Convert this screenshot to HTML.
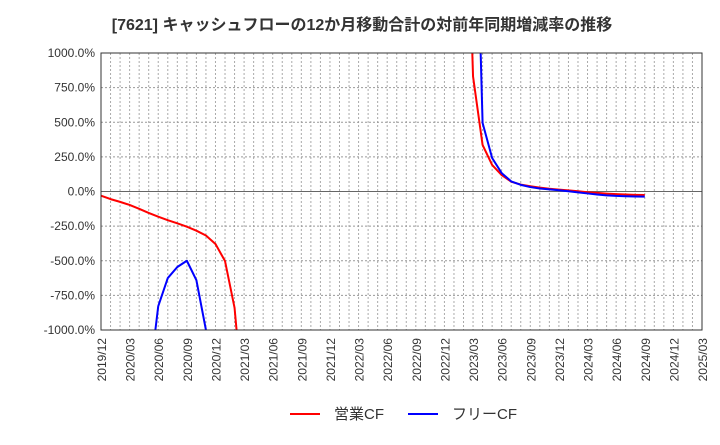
<!DOCTYPE html>
<html><head><meta charset="utf-8">
<style>
body{margin:0;background:#fff;font-family:"Liberation Sans","Noto Sans CJK JP",sans-serif;}
svg text{font-family:"Liberation Sans","Noto Sans CJK JP",sans-serif;}
</style></head>
<body>
<svg id="chart" width="720" height="440" xmlns="http://www.w3.org/2000/svg">
<text x="362" y="30" text-anchor="middle" font-size="16" font-weight="bold" fill="#333">[7621]  キャッシュフローの12か月移動合計の対前年同期増減率の推移</text>
<defs><clipPath id="clip"><rect x="101" y="53" width="601" height="277"/></clipPath></defs>
<g id="grid"></g>
<g id="series" clip-path="url(#clip)"></g>
<g id="axes"></g>
<g>
<line x1="290" y1="414" x2="320" y2="414" stroke="#f00" stroke-width="2"/>
<text x="334" y="419" font-size="15" fill="#333">営業CF</text>
<line x1="408" y1="414" x2="438" y2="414" stroke="#00f" stroke-width="2"/>
<text x="452" y="419" font-size="15" fill="#333">フリーCF</text>
</g>
</svg>
<script>
const tickLabels=["2019/12","2020/03","2020/06","2020/09","2020/12","2021/03","2021/06","2021/09","2021/12","2022/03","2022/06","2022/09","2022/12","2023/03","2023/06","2023/09","2023/12","2024/03","2024/06","2024/09","2024/12","2025/03"];
const yTicks=[1000,750,500,250,0,-250,-500,-750,-1000];
// monthly index from 2019/12 (0)
const redMonths=[0,1,2,3,4,5,6,7,8,9,10,11,12,13,14,15,38,39,40,41,42,43,44,45,46,47,48,49,50,51,52,53,54,55,56,57];
const redValues=[-30,-55,-75,-97,-125,-155,-182,-207,-230,-254,-283,-318,-379,-502,-840,-1600,3000,830,336,192,119,71,50,38,28,20,14,8,2,-5,-10,-15,-19,-22,-24,-25];
const blueMonths=[5,6,7,8,9,10,11,12,39,40,41,42,43,44,45,46,47,48,49,50,51,52,53,54,55,56,57];
const blueValues=[-1400,-828,-625,-545,-500,-640,-1000,-1500,3000,495,242,133,73,48,32,22,15,9,2,-6,-14,-22,-28,-32,-34,-36,-37];
const X0=101,X1=702,Y0=53,Y1=330,NM=63;
const xS=m=>X0+(X1-X0)*m/NM;
const yS=v=>Y1-(v+1000)/2000*(Y1-Y0);
const ns="http://www.w3.org/2000/svg";
function mk(t,a,p){const e=document.createElementNS(ns,t);for(const k in a)e.setAttribute(k,a[k]);p.appendChild(e);return e;}
const grid=document.getElementById('grid'),axes=document.getElementById('axes'),ser=document.getElementById('series');
for(let m=1;m<NM;m++){const l=mk('line',{x1:xS(m),x2:xS(m),y1:Y0,y2:Y1,stroke:'#aaa','stroke-dasharray':'2,2','stroke-width':1},grid);

}
yTicks.forEach(v=>{const y=yS(v);
const l=mk('line',{x1:X0,x2:X1,y1:y,y2:y,stroke:v===0?'#666':'#999','stroke-dasharray':v===0?'none':'2,2','stroke-width':1},grid);


const t=mk('text',{x:X0-6,y:y+4,'text-anchor':'end','font-size':12,fill:'#333'},axes);
t.textContent=v.toFixed(1)+'%';

});
const fr=mk('rect',{x:X0,y:Y0,width:X1-X0,height:Y1-Y0,fill:'none',stroke:'#333','stroke-width':1},axes);


tickLabels.forEach((s,i)=>{const x=xS(i*3)+5;
const t=mk('text',{x:0,y:0,transform:`translate(${x},338) rotate(-90)`,'text-anchor':'end','font-size':12,fill:'#333'},axes);
t.textContent=s;

});
function draw(ms,vs,col,name){let segs=[],cur=[];
ms.forEach((m,i)=>{if(i>0&&m-ms[i-1]>1){segs.push(cur);cur=[];}cur.push(xS(m)+','+yS(vs[i]));});segs.push(cur);
segs.forEach(s=>{const p=mk('polyline',{points:s.join(' '),fill:'none',stroke:col,'stroke-width':2,'stroke-linejoin':'round'},ser);

});}
draw(redMonths,redValues,'#f00','operating-cf-line');
draw(blueMonths,blueValues,'#00f','free-cf-line');
</script>
</body></html>
